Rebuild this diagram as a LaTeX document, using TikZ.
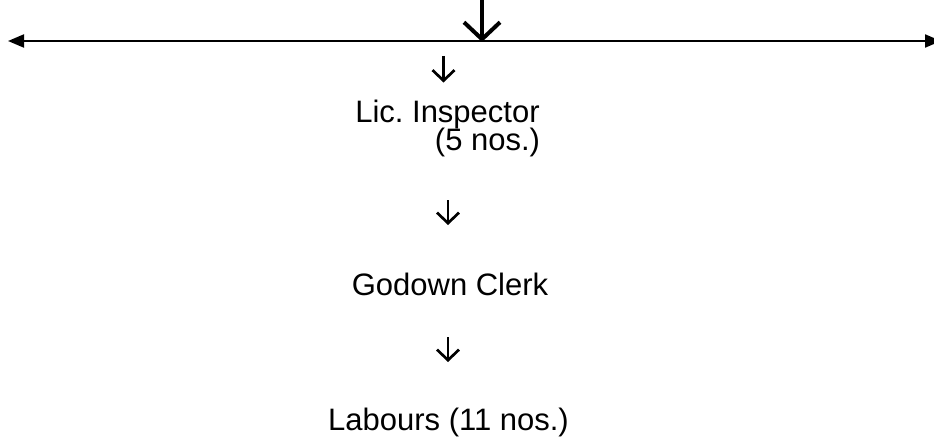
\documentclass[tikz,border=0pt]{standalone}
\usepackage{fontspec}
\setmainfont{Liberation Sans}
\usetikzlibrary{arrows.meta}
\frenchspacing
\tikzset{
  lbl/.style={inner sep=0pt, font=\fontsize{31}{36}\selectfont},
  downarr/.style={line width=2.7pt, -{Straight Barb[length=10.5pt,width=22pt,line width=2.7pt]}},
  bigarr/.style={line width=4pt, -{Straight Barb[length=17pt,width=36pt,line width=4pt]}},
  hline/.style={line width=2pt, {Triangle[length=16pt,width=13pt]}-{Triangle[length=16pt,width=13pt]}}
}
\begin{document}
\begin{tikzpicture}[x=1pt,y=-1pt]
\useasboundingbox (0,0) rectangle (934,444);
\clip (0,0) rectangle (934,444);
% horizontal line
\coordinate (hl) at (8,41);
\coordinate (hr) at (941,41);
\draw[hline] (hl) -- (hr);
% big arrow
\coordinate (btop) at (482,-6);
\coordinate (btip) at (482,42);
\draw[bigarr] (btop) -- (btip);
% texts
\node[lbl, anchor=base] (insp) at (447.5,122) {Lic.\ Inspector};
\node[lbl, anchor=base] (insp2) at (487.5,150) {(5 nos.)};
\node[lbl, anchor=base] (clerk) at (450,295) {Godown Clerk};
\node[lbl, anchor=base] (lab) at (448.5,430) {Labours (11 nos.)};
% small arrows
\coordinate (a1t) at (443.5,56);
\coordinate (a1b) at (443.5,82.5);
\coordinate (a2t) at (448,200);
\coordinate (a2b) at (448,225);
\coordinate (a3t) at (448,337);
\coordinate (a3b) at (448,362);
\draw[downarr] (a1t) -- (a1b);
\draw[downarr] (a2t) -- (a2b);
\draw[downarr] (a3t) -- (a3b);
\end{tikzpicture}
\end{document}
